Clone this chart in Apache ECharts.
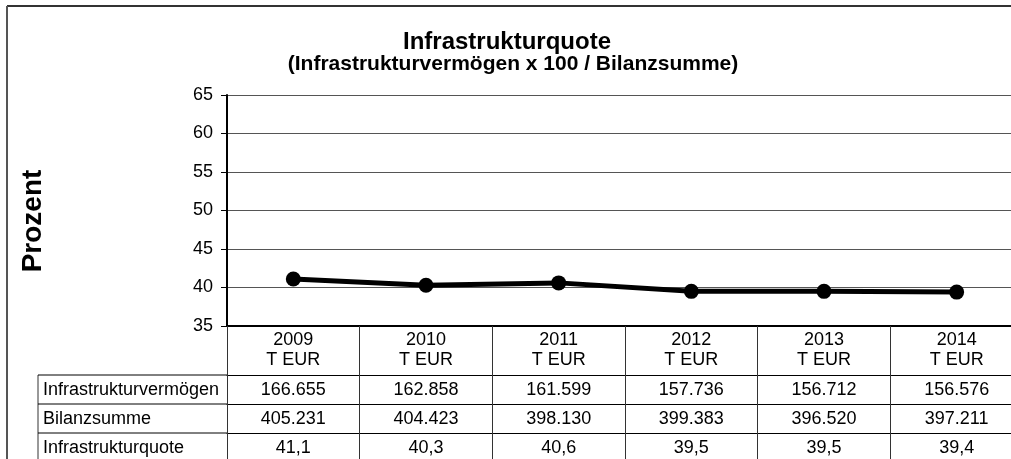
<!DOCTYPE html>
<html lang="de">
<head>
    <meta charset="UTF-8">
    <script src="https://cdn.jsdelivr.net/npm/echarts@6/dist/echarts.min.js"></script>
    <title>Infrastrukturquote</title>
    <style type="text/css">
        html, body { margin: 0; padding: 0; background: #fff; overflow: hidden; }
        /* Diagramm ist rechts angeschnitten, daher breiter als das Fenster */
        #chart { width: 1023px; height: 459px; }
    </style>
</head>
<body>
<div id="chart"></div>

<script type="text/javascript">
    // Jahre und Tabellenwerte
    const years = ['2009', '2010', '2011', '2012', '2013', '2014'];
    const vermoegen = ['166.655', '162.858', '161.599', '157.736', '156.712', '156.576'];
    const bilanzsumme = ['405.231', '404.423', '398.130', '399.383', '396.520', '397.211'];
    const quote = [41.1, 40.3, 40.6, 39.5, 39.5, 39.4];
    const rowLabels = ['Infrastrukturvermögen', 'Bilanzsumme', 'Infrastrukturquote'];

    const font = 'Liberation Sans, Arial, sans-serif';
    const gridLeft = 227, gridTop = 95, gridBottom = 326;

    function fmt(v) {
        return String(v.toFixed(1)).replace('.', ',');
    }

    // zusaetzliche x-Achsen = Tabellenzeilen
    function rowAxis(values, offset) {
        return {
            type: 'category',
            gridIndex: 0,
            position: 'bottom',
            offset: offset,
            data: values,
            axisLine: {show: true, lineStyle: {color: '#000', width: 1}},
            axisTick: {show: false},
            axisLabel: {fontFamily: font, fontSize: 18, color: '#000', margin: 6, lineHeight: 18, interval: 0}
        };
    }

    const rowY = [375, 404, 433];
    const graphics = [
        // Rahmen
        {type: 'line', shape: {x1: 7, y1: 6, x2: 1023, y2: 6}, style: {stroke: '#333', lineWidth: 2}},
        {type: 'line', shape: {x1: 7, y1: 6, x2: 7, y2: 459}, style: {stroke: '#555', lineWidth: 2}},
        // linke Spalte der Tabelle
        {type: 'line', shape: {x1: 38, y1: 375, x2: 38, y2: 459}, style: {stroke: '#333', lineWidth: 1}},
        // Achsentitel
        {
            type: 'text', x: 33, y: 221, rotation: Math.PI / 2,
            style: {text: 'Prozent', font: 'bold 28px ' + font, fill: '#000', textAlign: 'center', textVerticalAlign: 'middle'}
        }
    ];
    rowY.forEach(function (y, i) {
        graphics.push({type: 'line', shape: {x1: 38, y1: y, x2: gridLeft, y2: y}, style: {stroke: '#000', lineWidth: 1}});
        graphics.push({
            type: 'text', x: 43, y: y + 15,
            style: {text: rowLabels[i], font: '18px ' + font, fill: '#000', textVerticalAlign: 'middle'}
        });
    });

    const myChart = echarts.init(document.getElementById('chart'));
    const option = {
        animation: false,
        title: [
            {
                text: 'Infrastrukturquote',
                left: 502,
                textAlign: 'center',
                top: 24,
                textStyle: {fontFamily: font, fontSize: 24, fontWeight: 'bold', color: '#000', lineHeight: 26}
            },
            {
                text: '(Infrastrukturvermögen x 100 / Bilanzsumme)',
                left: 508,
                textAlign: 'center',
                top: 48,
                textStyle: {fontFamily: font, fontSize: 21, fontWeight: 'bold', color: '#000', lineHeight: 22}
            }
        ],
        grid: {left: gridLeft, top: gridTop, right: 0, bottom: 459 - gridBottom},
        xAxis: [
            {
                type: 'category',
                data: years,
                boundaryGap: true,
                axisLine: {show: true, lineStyle: {color: '#000', width: 2}},
                axisTick: {show: true, interval: 0, length: 136, lineStyle: {color: '#333', width: 1}},
                axisLabel: {
                    fontFamily: font, fontSize: 18, color: '#000', margin: 4, lineHeight: 20, interval: 0,
                    formatter: function (v) { return v + '\nT EUR'; }
                }
            },
            rowAxis(vermoegen, 49),
            rowAxis(bilanzsumme, 78),
            rowAxis(quote.map(fmt), 107)
        ],
        yAxis: {
            type: 'value',
            min: 35,
            max: 65,
            interval: 5,
            axisLine: {show: true, lineStyle: {color: '#000', width: 2}},
            axisTick: {show: true, length: 6, lineStyle: {color: '#000'}},
            axisLabel: {fontFamily: font, fontSize: 18, color: '#000', margin: 14},
            splitLine: {show: true, lineStyle: {color: '#555', width: 1}}
        },
        graphic: graphics,
        series: [{
            type: 'line',
            data: quote,
            symbol: 'circle',
            symbolSize: 15,
            lineStyle: {color: '#000', width: 5},
            itemStyle: {color: '#000'},
            z: 5
        }]
    };

    myChart.setOption(option);
</script>
</body>
</html>
